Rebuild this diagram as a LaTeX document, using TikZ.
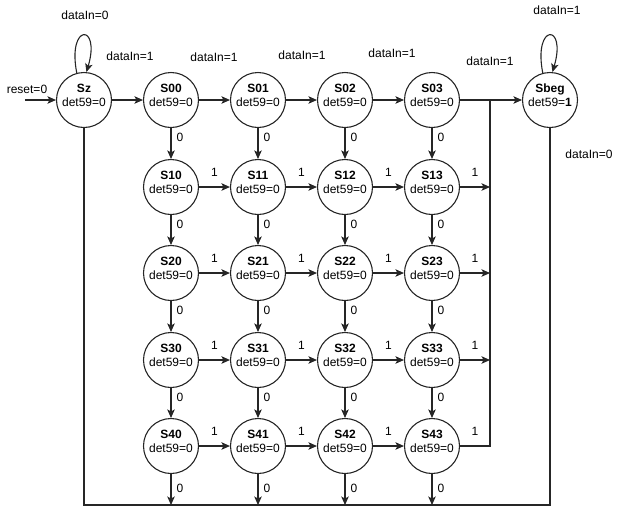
\documentclass[tikz,border=0pt]{standalone}
\usepackage{fontspec}
\setmainfont{Liberation Sans}
\usetikzlibrary{arrows.meta}
\begin{document}
\begin{tikzpicture}[x=1pt,y=-1pt,
  every node/.style={font=\fontsize{12}{14}\selectfont},
  ln/.style={draw=black!85, line width=1.1pt},
  arr/.style={ln, -{Stealth[length=8.5pt,width=7.5pt,inset=2pt]}},
  arrb/.style={arr, line width=1.6pt},
  state/.style={circle, draw=black!85, line width=1.1pt, minimum size=55pt, inner sep=0pt,
    label={[align=center, yshift=5pt]center:#1}},
  lbl/.style={inner sep=0pt},
  vlbl/.style={lbl, anchor=west, xshift=5pt},
  hlbl/.style={lbl, midway, above=9.5pt}
]
\useasboundingbox (0,0) rectangle (618,515);

% states
\node[state={\textbf{Sz}\\det59=0}] (Sz) at (84,100) {};
\foreach \r/\y in {0/100,1/187,2/273,3/360,4/446}{
  \foreach \c/\x in {0/171,1/258,2/345,3/432}{
    \node[state={\textbf{S\r\c}\\det59=0}] (S\r\c) at (\x,\y) {};
  }
}
\node[state={\textbf{Sbeg}\\det59=\textbf{1}}] (Sbeg) at (550,100) {};

% helper coordinates
\coordinate (rs) at (25,100);
\coordinate (ctop) at (490,100);
\coordinate (cbot) at (490,446);
\coordinate (bl) at (84,505);
\coordinate (br) at (550,505);

% reset
\node[lbl] (lreset) at (27,89) {reset=0};
\draw[arr] (rs) -- (Sz);

% self loops
\draw[arr] (Sz.105) .. controls (67,23) and (101,23) .. (Sz.85);
\draw[arr] (Sbeg.105) .. controls (533,23) and (567,23) .. (Sbeg.85);
\node[lbl] (lz0) at (85,15) {dataIn=0};
\node[lbl] (lb1) at (557,10) {dataIn=1};

% top row
\draw[arr] (Sz) -- (S00);
\draw[arr] (S00) -- (S01);
\draw[arr] (S01) -- (S02);
\draw[arr] (S02) -- (S03);
\draw[arr] (S03) -- (Sbeg);
\node[lbl] (ld1) at (130,56) {dataIn=1};
\node[lbl] (ld2) at (214,57) {dataIn=1};
\node[lbl] (ld3) at (302,55) {dataIn=1};
\node[lbl] (ld4) at (392,53) {dataIn=1};
\node[lbl] (ld5) at (490,61) {dataIn=1};
\node[lbl] (lb0) at (589,154) {dataIn=0};

% vertical arrows
\foreach \r/\rr in {0/1,1/2,2/3,3/4}{
  \foreach \c in {0,1,2,3}{
    \draw[arr] (S\r\c) -- (S\rr\c) node[vlbl, pos=0.3] {0};
  }
}
\foreach \c in {0,1,2,3}{
  \draw[arr] (S4\c) -- (S4\c |- bl) node[vlbl, pos=0.47] {0};
}

% horizontal arrows in rows 1-4
\foreach \r in {1,2,3,4}{
  \draw[arrb] (S\r0) -- (S\r1) node[hlbl] {1};
  \draw[arr] (S\r1) -- (S\r2) node[hlbl] {1};
  \draw[arr] (S\r2) -- (S\r3) node[hlbl] {1};
}
\foreach \r in {1,2,3}{
  \draw[arr] (S\r3) -- (S\r3 -| ctop) node[hlbl] {1};
}
\draw[ln] (S43) -- node[lbl, above=9.5pt] {1} (cbot) -- (ctop);

% return bus
\draw[ln] (Sz) -- (bl) -- (br) -- (Sbeg);
\end{tikzpicture}
\end{document}
